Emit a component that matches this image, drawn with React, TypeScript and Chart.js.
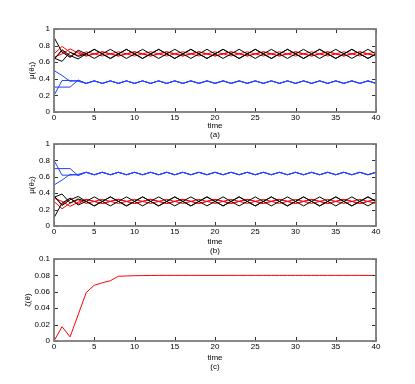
import React, { useEffect, useRef } from 'react';
import { Chart, registerables } from 'chart.js';

Chart.register(...registerables);

// ---------- data ----------
const TIME = [0,1,2,3,4,5,6,7,8,9,10,11,12,13,14,15,16,17,18,19,20,21,22,23,24,25,26,27,28,29,30,31,32,33,34,35,36,37,38,39,40];

// panel (a)  mu(theta_1)
const A_BLACK_1 = [0.90,0.72,0.66,0.745, 0.70,0.645,0.70,0.755, 0.70,0.645,0.70,0.755, 0.70,0.645,0.70,0.755, 0.70,0.645,0.70,0.755, 0.70,0.645,0.70,0.755, 0.70,0.645,0.70,0.755, 0.70,0.645,0.70,0.755, 0.70,0.645,0.70,0.755, 0.70,0.645,0.70,0.755, 0.70];
const A_BLACK_2 = [0.65,0.61,0.72,0.67, 0.70,0.755,0.70,0.645, 0.70,0.755,0.70,0.645, 0.70,0.755,0.70,0.645, 0.70,0.755,0.70,0.645, 0.70,0.755,0.70,0.645, 0.70,0.755,0.70,0.645, 0.70,0.755,0.70,0.645, 0.70,0.755,0.70,0.645, 0.70,0.755,0.70,0.645, 0.70];
const A_BLACK_3 = [0.63,0.75,0.68,0.64, 0.70,0.755,0.70,0.645, 0.70,0.755,0.70,0.645, 0.70,0.755,0.70,0.645, 0.70,0.755,0.70,0.645, 0.70,0.755,0.70,0.645, 0.70,0.755,0.70,0.645, 0.70,0.755,0.70,0.645, 0.70,0.755,0.70,0.645, 0.70,0.755,0.70,0.645, 0.70];
const A_RED_1 = [0.70,0.79,0.72,0.68, 0.725,0.70,0.675,0.70, 0.725,0.70,0.675,0.70, 0.725,0.70,0.675,0.70, 0.725,0.70,0.675,0.70, 0.725,0.70,0.675,0.70, 0.725,0.70,0.675,0.70, 0.725,0.70,0.675,0.70, 0.725,0.70,0.675,0.70, 0.725,0.70,0.675,0.70, 0.725];
const A_RED_2 = [0.66,0.70,0.76,0.71, 0.675,0.70,0.725,0.70, 0.675,0.70,0.725,0.70, 0.675,0.70,0.725,0.70, 0.675,0.70,0.725,0.70, 0.675,0.70,0.725,0.70, 0.675,0.70,0.725,0.70, 0.675,0.70,0.725,0.70, 0.675,0.70,0.725,0.70, 0.675,0.70,0.725,0.70, 0.675];
const A_RED_3 = [0.64,0.74,0.66,0.73, 0.675,0.70,0.725,0.70, 0.675,0.70,0.725,0.70, 0.675,0.70,0.725,0.70, 0.675,0.70,0.725,0.70, 0.675,0.70,0.725,0.70, 0.675,0.70,0.725,0.70, 0.675,0.70,0.725,0.70, 0.675,0.70,0.725,0.70, 0.675,0.70,0.725,0.70, 0.675];
const A_BLUE_1 = [0.50,0.44,0.37,0.38, 0.345,0.375,0.345,0.375, 0.345,0.375,0.345,0.375, 0.345,0.375,0.345,0.375, 0.345,0.375,0.345,0.375, 0.345,0.375,0.345,0.375, 0.345,0.375,0.345,0.375, 0.345,0.375,0.345,0.375, 0.345,0.375,0.345,0.375, 0.345,0.375,0.345,0.375, 0.345];
const A_BLUE_2 = [0.30,0.30,0.30,0.385, 0.345,0.375,0.345,0.375, 0.345,0.375,0.345,0.375, 0.345,0.375,0.345,0.375, 0.345,0.375,0.345,0.375, 0.345,0.375,0.345,0.375, 0.345,0.375,0.345,0.375, 0.345,0.375,0.345,0.375, 0.345,0.375,0.345,0.375, 0.345,0.375,0.345,0.375, 0.345];
const A_BLUE_3 = [0.20,0.38,0.38,0.37, 0.345,0.375,0.345,0.375, 0.345,0.375,0.345,0.375, 0.345,0.375,0.345,0.375, 0.345,0.375,0.345,0.375, 0.345,0.375,0.345,0.375, 0.345,0.375,0.345,0.375, 0.345,0.375,0.345,0.375, 0.345,0.375,0.345,0.375, 0.345,0.375,0.345,0.375, 0.345];

// panel (b)  mu(theta_2)
const B_BLACK_1 = [0.10,0.28,0.34,0.255, 0.30,0.355,0.30,0.245, 0.30,0.355,0.30,0.245, 0.30,0.355,0.30,0.245, 0.30,0.355,0.30,0.245, 0.30,0.355,0.30,0.245, 0.30,0.355,0.30,0.245, 0.30,0.355,0.30,0.245, 0.30,0.355,0.30,0.245, 0.30,0.355,0.30,0.245, 0.30];
const B_BLACK_2 = [0.35,0.39,0.28,0.33, 0.30,0.245,0.30,0.355, 0.30,0.245,0.30,0.355, 0.30,0.245,0.30,0.355, 0.30,0.245,0.30,0.355, 0.30,0.245,0.30,0.355, 0.30,0.245,0.30,0.355, 0.30,0.245,0.30,0.355, 0.30,0.245,0.30,0.355, 0.30,0.245,0.30,0.355, 0.30];
const B_BLACK_3 = [0.37,0.25,0.32,0.36, 0.30,0.245,0.30,0.355, 0.30,0.245,0.30,0.355, 0.30,0.245,0.30,0.355, 0.30,0.245,0.30,0.355, 0.30,0.245,0.30,0.355, 0.30,0.245,0.30,0.355, 0.30,0.245,0.30,0.355, 0.30,0.245,0.30,0.355, 0.30,0.245,0.30,0.355, 0.30];
const B_RED_1 = [0.30,0.21,0.28,0.32, 0.275,0.30,0.325,0.30, 0.275,0.30,0.325,0.30, 0.275,0.30,0.325,0.30, 0.275,0.30,0.325,0.30, 0.275,0.30,0.325,0.30, 0.275,0.30,0.325,0.30, 0.275,0.30,0.325,0.30, 0.275,0.30,0.325,0.30, 0.275,0.30,0.325,0.30, 0.275];
const B_RED_2 = [0.34,0.30,0.24,0.29, 0.325,0.30,0.275,0.30, 0.325,0.30,0.275,0.30, 0.325,0.30,0.275,0.30, 0.325,0.30,0.275,0.30, 0.325,0.30,0.275,0.30, 0.325,0.30,0.275,0.30, 0.325,0.30,0.275,0.30, 0.325,0.30,0.275,0.30, 0.325,0.30,0.275,0.30, 0.325];
const B_RED_3 = [0.36,0.26,0.34,0.27, 0.325,0.30,0.275,0.30, 0.325,0.30,0.275,0.30, 0.325,0.30,0.275,0.30, 0.325,0.30,0.275,0.30, 0.325,0.30,0.275,0.30, 0.325,0.30,0.275,0.30, 0.325,0.30,0.275,0.30, 0.325,0.30,0.275,0.30, 0.325,0.30,0.275,0.30, 0.325];
const B_BLUE_1 = [0.50,0.56,0.63,0.62, 0.655,0.625,0.655,0.625, 0.655,0.625,0.655,0.625, 0.655,0.625,0.655,0.625, 0.655,0.625,0.655,0.625, 0.655,0.625,0.655,0.625, 0.655,0.625,0.655,0.625, 0.655,0.625,0.655,0.625, 0.655,0.625,0.655,0.625, 0.655,0.625,0.655,0.625, 0.655];
const B_BLUE_2 = [0.70,0.70,0.70,0.615, 0.655,0.625,0.655,0.625, 0.655,0.625,0.655,0.625, 0.655,0.625,0.655,0.625, 0.655,0.625,0.655,0.625, 0.655,0.625,0.655,0.625, 0.655,0.625,0.655,0.625, 0.655,0.625,0.655,0.625, 0.655,0.625,0.655,0.625, 0.655,0.625,0.655,0.625, 0.655];
const B_BLUE_3 = [0.80,0.62,0.62,0.63, 0.655,0.625,0.655,0.625, 0.655,0.625,0.655,0.625, 0.655,0.625,0.655,0.625, 0.655,0.625,0.655,0.625, 0.655,0.625,0.655,0.625, 0.655,0.625,0.655,0.625, 0.655,0.625,0.655,0.625, 0.655,0.625,0.655,0.625, 0.655,0.625,0.655,0.625, 0.655];

// panel (c)  zeta(theta)
const C_ZETA = [0,0.0175,0.005,0.032,0.059,0.068,0.071,0.0735,0.079,0.0793,0.0796,0.0798,0.0799,0.08,0.08,0.08,0.08,0.08,0.08,0.08,0.08,0.08,0.08,0.08,0.08,0.08,0.08,0.08,0.08,0.08,0.08,0.08,0.08,0.08,0.08,0.08,0.08,0.08,0.08,0.08,0.08];

const Y_TICKS_MU = [0, 0.2, 0.4, 0.6, 0.8, 1];
const Y_TICKS_ZETA = [0, 0.02, 0.04, 0.06, 0.08, 0.1];
const X_TICKS = [0, 5, 10, 15, 20, 25, 30, 35, 40];

// ---------- styling ----------
const FONT = "'Liberation Sans', Arial, Helvetica, sans-serif";
const BLACK = '#000000';
const RED = '#ff0000';
const BLUE = '#2040ff';

const framePlugin = {
  id: 'matlabFrame',
  afterDatasetsDraw(chart: any) {
    const { ctx, chartArea } = chart;
    const { left, right, top, bottom } = chartArea;
    const xs = chart.scales.x;
    const ys = chart.scales.y;
    const L = 4;
    ctx.save();
    ctx.strokeStyle = '#333333';
    ctx.lineWidth = 1;
    ctx.beginPath();
    xs.ticks.forEach((t: any) => {
      const p = Math.round(xs.getPixelForValue(t.value)) + 0.5;
      ctx.moveTo(p, bottom); ctx.lineTo(p, bottom - L);
      ctx.moveTo(p, top); ctx.lineTo(p, top + L);
    });
    ys.ticks.forEach((t: any) => {
      const p = Math.round(ys.getPixelForValue(t.value)) + 0.5;
      ctx.moveTo(left, p); ctx.lineTo(left + L, p);
      ctx.moveTo(right, p); ctx.lineTo(right - L, p);
    });
    ctx.stroke();
    ctx.strokeStyle = '#7c7c7c';
    ctx.lineWidth = 1.8;
    ctx.strokeRect(left, top, right - left, bottom - top);
    ctx.restore();
  },
};

type Series = { data: number[]; color: string };

type PanelProps = {
  top: number;
  height: number;
  padTop: number;
  axisHeight: number;
  series: Series[];
  yMax: number;
  yTicks: number[];
  yTitle: string;
  yTitlePad: number;
  letter: string;
};

function Panel(p: PanelProps) {
  const ref = useRef<HTMLCanvasElement | null>(null);
  useEffect(() => {
    if (!ref.current) return;
    const chart = new Chart(ref.current, {
      type: 'line',
      data: {
        datasets: p.series.map((s) => ({
          data: TIME.map((t, i) => ({ x: t, y: s.data[i] })),
          borderColor: s.color,
          borderWidth: 1,
          pointRadius: 0,
          tension: 0,
          fill: false,
        })),
      },
      options: {
        responsive: false,
        animation: false,
        events: [],
        layout: { padding: { left: 0, right: 39, top: p.padTop, bottom: 0 } },
        plugins: { legend: { display: false }, tooltip: { enabled: false }, title: { display: false } },
        scales: {
          x: {
            type: 'linear',
            min: 0,
            max: 40,
            afterBuildTicks: (scale: any) => { scale.ticks = X_TICKS.map((v) => ({ value: v })); },
            grid: { display: false, drawTicks: false },
            border: { display: false },
            ticks: {
              padding: 1,
              maxRotation: 0,
              autoSkip: false,
              color: '#000',
              font: { family: FONT, size: 8, lineHeight: 1.2 },
              callback: (v: any) => String(v),
            },
            title: {
              display: true,
              text: ['time', p.letter],
              color: '#000',
              padding: 0,
              font: { family: FONT, size: 8, lineHeight: 1.2 },
            },
            afterFit: (scale: any) => { scale.height = p.axisHeight; },
          },
          y: {
            type: 'linear',
            min: 0,
            max: p.yMax,
            afterBuildTicks: (scale: any) => { scale.ticks = p.yTicks.map((v) => ({ value: v })); },
            grid: { display: false, drawTicks: false },
            border: { display: false },
            ticks: {
              padding: 4,
              autoSkip: false,
              color: '#000',
              font: { family: FONT, size: 8, lineHeight: 1.2 },
              callback: (v: any) => String(+Number(v).toFixed(4)),
            },
            title: {
              display: true,
              text: p.yTitle,
              color: '#000',
              padding: { top: p.yTitlePad, bottom: 0 },
              font: { family: FONT, size: 8, lineHeight: 1.2 },
            },
            afterFit: (scale: any) => { scale.width = 54; },
          },
        },
      },
      plugins: [framePlugin],
    } as any);
    return () => chart.destroy();
  }, []);
  return (
    <canvas
      ref={ref}
      width={415}
      height={p.height}
      style={{ position: 'absolute', left: 0, top: p.top, width: 415, height: p.height }}
    />
  );
}

export default function App() {
  return (
    <div style={{ position: 'absolute', left: 0, top: 0, width: 415, height: 384, background: '#fff' }}>
      <Panel
        top={0}
        height={140}
        padTop={29}
        axisHeight={28}
        yMax={1}
        yTicks={Y_TICKS_MU}
        yTitle="μ(θ₁)"
        yTitlePad={27}
        letter="(a)"
        series={[
          { data: A_BLACK_1, color: BLACK },
          { data: A_BLACK_2, color: BLACK },
          { data: A_BLACK_3, color: BLACK },
          { data: A_RED_1, color: RED },
          { data: A_RED_2, color: RED },
          { data: A_RED_3, color: RED },
          { data: A_BLUE_1, color: BLUE },
          { data: A_BLUE_2, color: BLUE },
          { data: A_BLUE_3, color: BLUE },
        ]}
      />
      <Panel
        top={125}
        height={131}
        padTop={19}
        axisHeight={30}
        yMax={1}
        yTicks={Y_TICKS_MU}
        yTitle="μ(θ₂)"
        yTitlePad={27}
        letter="(b)"
        series={[
          { data: B_BLACK_1, color: BLACK },
          { data: B_BLACK_2, color: BLACK },
          { data: B_BLACK_3, color: BLACK },
          { data: B_RED_1, color: RED },
          { data: B_RED_2, color: RED },
          { data: B_RED_3, color: RED },
          { data: B_BLUE_1, color: BLUE },
          { data: B_BLUE_2, color: BLUE },
          { data: B_BLUE_3, color: BLUE },
        ]}
      />
      <Panel
        top={240}
        height={132}
        padTop={19}
        axisHeight={31}
        yMax={0.1}
        yTicks={Y_TICKS_ZETA}
        yTitle="ζ(θ)"
        yTitlePad={23}
        letter="(c)"
        series={[{ data: C_ZETA, color: RED }]}
      />
    </div>
  );
}
